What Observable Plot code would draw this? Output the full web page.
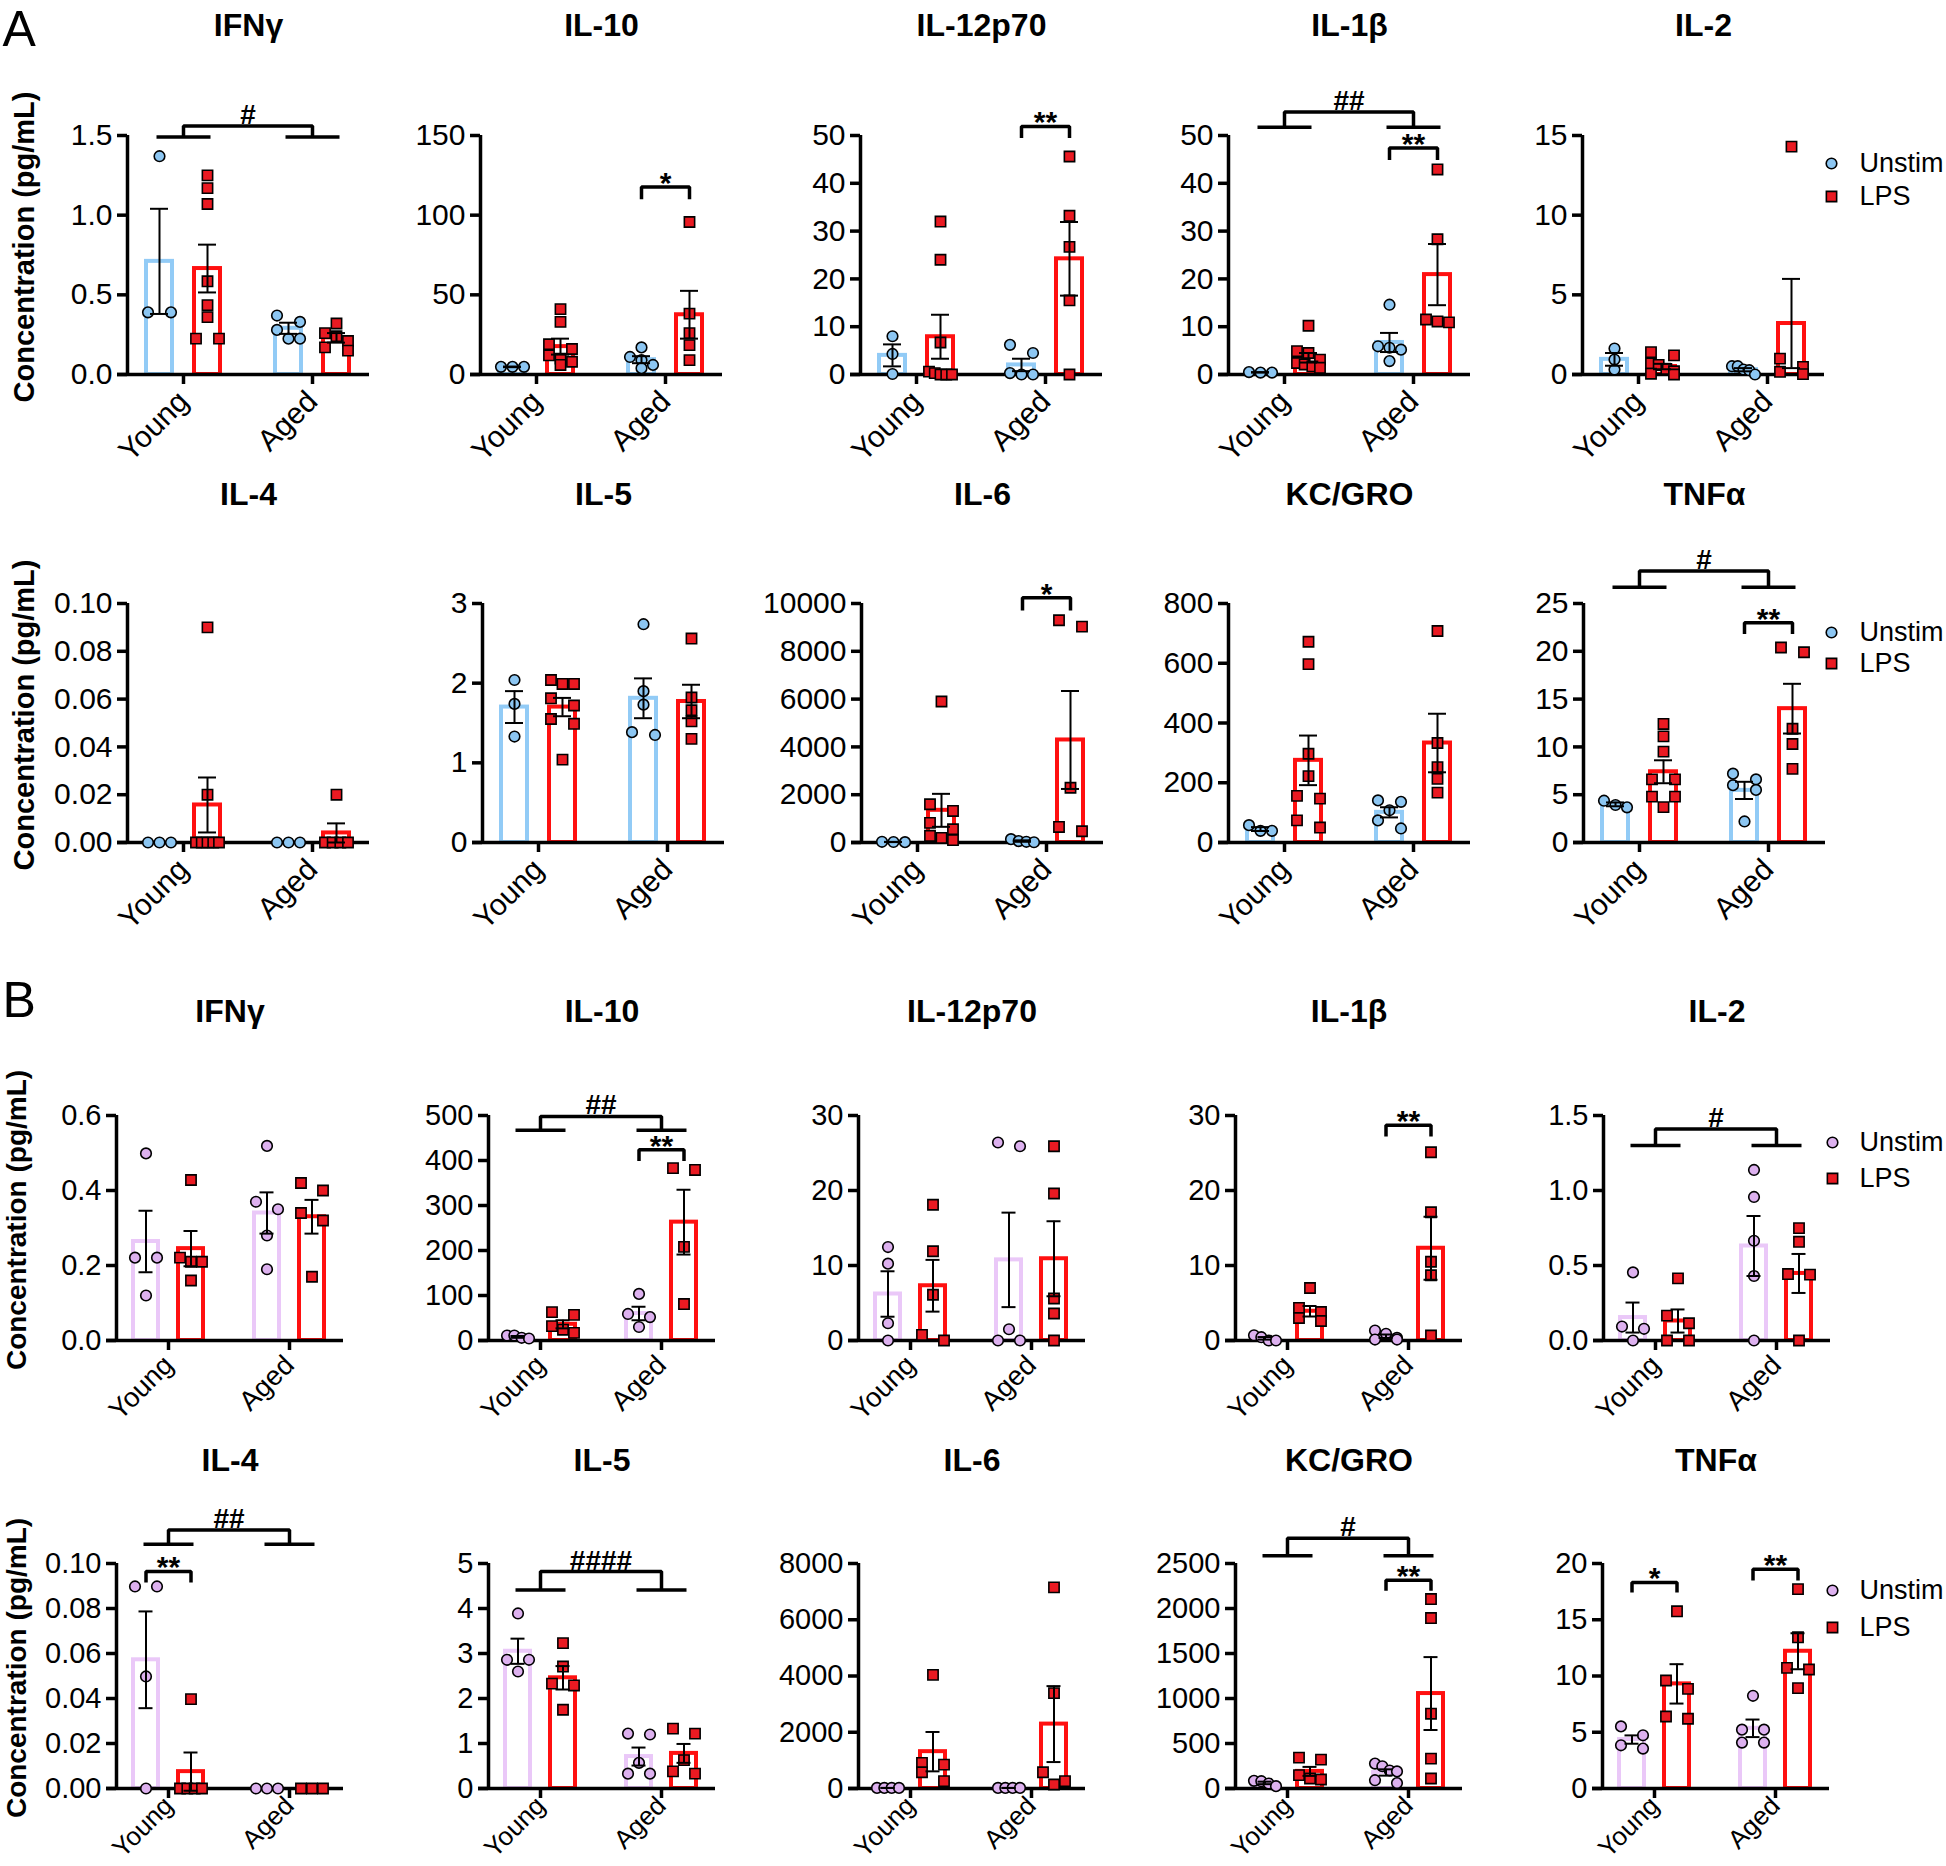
<!DOCTYPE html>
<html><head><meta charset="utf-8">
<script src="https://cdn.jsdelivr.net/npm/d3@7"></script>
<script src="https://cdn.jsdelivr.net/npm/@observablehq/plot@0.6"></script>
<style>
html,body{margin:0;padding:0;background:#fff;}
#page{position:relative;width:1946px;height:1866px;overflow:hidden;background:#fff;}
#page svg{position:absolute;}
</style></head><body><div id="page"></div>
<script>
// ---------------- DATA ----------------
const ages = ["Young", "Aged"];
const stims = ["Unstim", "LPS"];
const yTitle = "Concentration (pg/mL)";
// group order in every array: [Young Unstim, Young LPS, Aged Unstim, Aged LPS]

// ---- Panel A ----
const A_IFNg_ticks = ["0.0","0.5","1.0","1.5"];
const A_IFNg_pts = [[1.37,0.39,0.39],[1.25,1.17,1.07,0.585,0.435,0.36,0.225,0.225],[0.37,0.33,0.28,0.225,0.225],[0.32,0.26,0.24,0.21,0.17,0.15]];
const A_IFNg_mean = [0.71,0.665,0.29,0.23];
const A_IFNg_sem = [0.33,0.15,0.035,0.03];
const A_IFNg_sig = [{kind:"age", lo:1.49, hi:1.56, label:"#"}];

const A_IL10_ticks = ["0","50","100","150"];
const A_IL10_pts = [[4.8,4.8,4.8],[41,33,19,16,12,10,8,6],[17,11,9,6,4],[95.7,38.2,26,18.4,9]];
const A_IL10_mean = [4.8,17.5,9.3,37.5];
const A_IL10_sem = [0.2,5,2.2,15];
const A_IL10_sig = [{kind:"pair", age:1, y:117.6, leg:110, label:"*"}];

const A_IL12_ticks = ["0","10","20","30","40","50"];
const A_IL12_pts = [[8.0,4.3,0.1],[32,24,6.7,0.6,0.3,0,0,0],[6.2,4.5,0.3,0,0],[45.6,33.2,26.7,15.5,0]];
const A_IL12_mean = [4.0,7.9,2.0,24.2];
const A_IL12_sem = [2.3,4.6,1.3,7.7];
const A_IL12_sig = [{kind:"pair", age:1, y:51.9, leg:49.5, label:"**"}];

const A_IL1b_ticks = ["0","10","20","30","40","50"];
const A_IL1b_pts = [[0.5,0.4,0.4],[10.2,4.9,4.5,3.1,2.4,2.1,1.7,1.4],[14.6,5.9,5.6,5.2,2.8],[42.9,28.3,11.5,11.1,10.9]];
const A_IL1b_mean = [0.45,3.5,6.7,20.9];
const A_IL1b_sem = [0.05,1.0,2.0,6.4];
const A_IL1b_sig = [{kind:"pair", age:1, y:47.4, leg:44.9, label:"**"},{kind:"age", lo:51.7, hi:54.9, label:"##"}];

const A_IL2_ticks = ["0","5","10","15"];
const A_IL2_pts = [[1.63,0.94,0.31],[1.4,1.2,0.7,0.6,0.35,0.2,0.05,0.0],[0.52,0.52,0.31,0.27,0.0],[14.3,1.0,0.48,0.17,0.02]];
const A_IL2_mean = [0.95,0.5,0.3,3.2];
const A_IL2_sem = [0.4,0.17,0.1,2.8];
const A_IL2_sig = [];

const A_IL4_ticks = ["0.00","0.02","0.04","0.06","0.08","0.10"];
const A_IL4_pts = [[0,0,0],[0.09,0.02,0,0,0,0,0],[0,0,0],[0.02,0,0,0,0]];
const A_IL4_mean = [0,0.0157,0,0.004];
const A_IL4_sem = [0,0.0115,0,0.004];
const A_IL4_sig = [];

const A_IL5_ticks = ["0","1","2","3"];
const A_IL5_pts = [[2.04,1.74,1.33],[2.04,1.99,1.99,1.81,1.72,1.55,1.49,1.04],[2.74,1.9,1.73,1.385,1.35],[2.56,1.82,1.66,1.52,1.30]];
const A_IL5_mean = [1.70,1.70,1.81,1.77];
const A_IL5_sem = [0.2,0.115,0.25,0.21];
const A_IL5_sig = [];

const A_IL6_ticks = ["0","2000","4000","6000","8000","10000"];
const A_IL6_pts = [[30,20,15],[5900,1600,1320,820,555,280,195,100],[140,60,30,10],[9300,9030,2290,650,470]];
const A_IL6_mean = [22,1346,60,4290];
const A_IL6_sem = [5,690,30,2050];
const A_IL6_sig = [{kind:"pair", age:1, y:10240, leg:9710, label:"*"}];

const A_KC_ticks = ["0","200","400","600","800"];
const A_KC_pts = [[58,39,39],[672,597,297,222,156,147,74,50],[141,136,108,74,47],[708,333,252,213,167]];
const A_KC_mean = [45,275,101,333];
const A_KC_sem = [6.5,83,17,98];
const A_KC_sig = [];

const A_TNF_ticks = ["0","5","10","15","20","25"];
const A_TNF_pts = [[4.37,3.92,3.68],[12.4,11.1,9.5,6.6,6.6,4.8,4.8,3.7],[7.2,6.6,6.0,5.5,2.2],[20.4,19.9,11.9,10.3,7.7]];
const A_TNF_mean = [3.99,7.4,5.45,14.0];
const A_TNF_sem = [0.2,1.2,0.9,2.6];
const A_TNF_sig = [{kind:"pair", age:1, y:22.99, leg:21.8, label:"**"},{kind:"age", lo:26.7, hi:28.4, label:"#"}];

// ---- Panel B ----
const B_IFNg_ticks = ["0.0","0.2","0.4","0.6"];
const B_IFNg_pts = [[0.499,0.221,0.221,0.12],[0.428,0.221,0.21,0.21,0.16],[0.519,0.37,0.35,0.28,0.19],[0.42,0.40,0.34,0.32,0.17]];
const B_IFNg_mean = [0.264,0.245,0.34,0.33];
const B_IFNg_sem = [0.082,0.047,0.055,0.045];
const B_IFNg_sig = [];

const B_IL10_ticks = ["0","100","200","300","400","500"];
const B_IL10_pts = [[11,11,6,4.4],[63,57,32,24,17],[103.5,59,52,30],[383,379,208,81]];
const B_IL10_mean = [8,36,60,263];
const B_IL10_sem = [2,9,15,72];
const B_IL10_sig = [{kind:"pair", age:1, y:424, leg:399, label:"**"},{kind:"age", lo:467, hi:498, label:"##"}];

const B_IL12_ticks = ["0","10","20","30"];
const B_IL12_pts = [[12.46,10.25,2.3,0],[18.1,11.9,6.1,0.75,0],[26.4,25.9,1.5,0,0],[25.9,19.6,5.6,3.6,0]];
const B_IL12_mean = [6.2,7.3,10.75,10.9];
const B_IL12_sem = [3.03,3.45,6.3,5.0];
const B_IL12_sig = [];

const B_IL1b_ticks = ["0","10","20","30"];
const B_IL1b_pts = [[0.7,0.44,0,0],[7.0,4.35,3.8,3.0,2.6],[1.33,0.9,0.35,0.13,0.13],[25.1,17.1,10.5,8.7,0.67]];
const B_IL1b_mean = [0.29,3.9,0.57,12.3];
const B_IL1b_sem = [0.17,0.7,0.23,4.2];
const B_IL1b_sig = [{kind:"pair", age:1, y:28.7, leg:27.2, label:"**"}];

const B_IL2_ticks = ["0.0","0.5","1.0","1.5"];
const B_IL2_pts = [[0.454,0.093,0.078,0],[0.414,0.166,0.115,0,0],[1.137,0.957,0.665,0.43,0],[0.749,0.658,0.443,0.439,0]];
const B_IL2_mean = [0.153,0.13,0.63,0.447];
const B_IL2_sem = [0.1,0.077,0.2,0.13];
const B_IL2_sig = [{kind:"age", lo:1.30, hi:1.41, label:"#"}];

const B_IL4_ticks = ["0.00","0.02","0.04","0.06","0.08","0.10"];
const B_IL4_pts = [[0.0898,0.0898,0.0498,0],[0.0397,0,0,0,0],[0,0,0],[0,0,0]];
const B_IL4_mean = [0.0572,0.0075,0,0];
const B_IL4_sem = [0.0215,0.0085,0,0];
const B_IL4_sig = [{kind:"pair", age:0, y:0.0965, leg:0.0916, label:"**"},{kind:"age", lo:0.1086, hi:0.1149, label:"##"}];

const B_IL5_ticks = ["0","1","2","3","4","5"];
const B_IL5_pts = [[3.89,2.86,2.86,2.6],[3.23,2.71,2.33,2.29,1.75],[1.22,1.2,0.57,0.33,0.33],[1.33,1.22,0.63,0.38,0.33]];
const B_IL5_mean = [3.05,2.46,0.71,0.78];
const B_IL5_sem = [0.28,0.26,0.2,0.21];
const B_IL5_sig = [{kind:"age", lo:4.41, hi:4.82, label:"####"}];

const B_IL6_ticks = ["0","2000","4000","6000","8000"];
const B_IL6_pts = [[20,20,20,20],[4042,910,851,579,260],[20,20,20,20],[7151,3392,579,260,142]];
const B_IL6_mean = [20,1310,20,2290];
const B_IL6_sem = [2,700,2,1350];
const B_IL6_sig = [];

const B_KC_ticks = ["0","500","1000","1500","2000","2500"];
const B_KC_pts = [[85,81,55,26],[343,321,148,111,100],[277,247,200,190,92,60],[2105,1894,831,332,111]];
const B_KC_mean = [62,190,178,1055];
const B_KC_sem = [14,50,35,405];
const B_KC_sig = [{kind:"pair", age:1, y:2315, leg:2197, label:"**"},{kind:"age", lo:2585, hi:2780, label:"#"}];

const B_TNF_ticks = ["0","5","10","15","20"];
const B_TNF_pts = [[5.52,4.73,3.84,3.55],[15.75,9.6,8.86,6.4,6.2],[8.24,5.23,5.23,4.08,4.08],[17.72,13.44,10.72,10.58,8.92]];
const B_TNF_mean = [4.35,9.3,5.35,12.2];
const B_TNF_sem = [0.37,1.75,0.78,1.6];
const B_TNF_sig = [{kind:"pair", age:0, y:18.32, leg:17.43, label:"*"},{kind:"pair", age:1, y:19.5, leg:18.5, label:"**"}];

const panelsA = [
  ["IFNγ", A_IFNg_ticks, A_IFNg_pts, A_IFNg_mean, A_IFNg_sem, A_IFNg_sig],
  ["IL-10", A_IL10_ticks, A_IL10_pts, A_IL10_mean, A_IL10_sem, A_IL10_sig],
  ["IL-12p70", A_IL12_ticks, A_IL12_pts, A_IL12_mean, A_IL12_sem, A_IL12_sig],
  ["IL-1β", A_IL1b_ticks, A_IL1b_pts, A_IL1b_mean, A_IL1b_sem, A_IL1b_sig],
  ["IL-2", A_IL2_ticks, A_IL2_pts, A_IL2_mean, A_IL2_sem, A_IL2_sig],
  ["IL-4", A_IL4_ticks, A_IL4_pts, A_IL4_mean, A_IL4_sem, A_IL4_sig],
  ["IL-5", A_IL5_ticks, A_IL5_pts, A_IL5_mean, A_IL5_sem, A_IL5_sig],
  ["IL-6", A_IL6_ticks, A_IL6_pts, A_IL6_mean, A_IL6_sem, A_IL6_sig],
  ["KC/GRO", A_KC_ticks, A_KC_pts, A_KC_mean, A_KC_sem, A_KC_sig],
  ["TNFα", A_TNF_ticks, A_TNF_pts, A_TNF_mean, A_TNF_sem, A_TNF_sig]
];
const panelsB = [
  ["IFNγ", B_IFNg_ticks, B_IFNg_pts, B_IFNg_mean, B_IFNg_sem, B_IFNg_sig],
  ["IL-10", B_IL10_ticks, B_IL10_pts, B_IL10_mean, B_IL10_sem, B_IL10_sig],
  ["IL-12p70", B_IL12_ticks, B_IL12_pts, B_IL12_mean, B_IL12_sem, B_IL12_sig],
  ["IL-1β", B_IL1b_ticks, B_IL1b_pts, B_IL1b_mean, B_IL1b_sem, B_IL1b_sig],
  ["IL-2", B_IL2_ticks, B_IL2_pts, B_IL2_mean, B_IL2_sem, B_IL2_sig],
  ["IL-4", B_IL4_ticks, B_IL4_pts, B_IL4_mean, B_IL4_sem, B_IL4_sig],
  ["IL-5", B_IL5_ticks, B_IL5_pts, B_IL5_mean, B_IL5_sem, B_IL5_sig],
  ["IL-6", B_IL6_ticks, B_IL6_pts, B_IL6_mean, B_IL6_sem, B_IL6_sig],
  ["KC/GRO", B_KC_ticks, B_KC_pts, B_KC_mean, B_KC_sem, B_KC_sig],
  ["TNFα", B_TNF_ticks, B_TNF_pts, B_TNF_mean, B_TNF_sem, B_TNF_sig]
];

// ---------------- LAYOUT / STYLE ----------------
const FONT = '"Liberation Sans", Arial, Helvetica, sans-serif';
const LPS_BAR = "#ff1010";
const LPS_DOT = "#ea1a22";
const DOT_R = 5.3, SQ_R = 5.8;

const sections = [
  {letter: "A", letterBase: 45, panels: panelsA, frameW: 242, youngPx: 56, step: 129,
   slot: 11.5, capPx: 18, barHalfPx: 13, barOffPx: 24, bracketHalf: 27,
   unstimFill: "#8cc6f2", unstimStroke: "#92cbf6", tickFont: 30, yTitleFont: 29, yTitleCx: 24,
   legend: [[249, 28, 61, 277], [248, 29, 60, 276]],
   rows: [
     {top: 135, bottom: 374, titleBase: 35, axisX: [127, 480, 860, 1228, 1582], xFont: 30, xPad: 12},
     {top: 603, bottom: 842, titleBase: 504, axisX: [127, 482, 861, 1228, 1583], xFont: 30, xPad: 12}
   ]},
  {letter: "B", letterBase: 1016, panels: panelsB, frameW: 227, youngPx: 52, step: 121,
   slot: 11, capPx: 14, barHalfPx: 12.5, barOffPx: 22.5, bracketHalf: 25,
   unstimFill: "#ddb1ef", unstimStroke: "#eac8f8", tickFont: 29, yTitleFont: 28, yTitleCx: 17,
   legend: [[229, 27, 63, 256], [230, 27, 64, 257]],
   rows: [
     {top: 1115, bottom: 1340, titleBase: 1021, axisX: [116, 488, 858, 1235, 1603], xFont: 27.5, xPad: 10},
     {top: 1563, bottom: 1788, titleBase: 1470, axisX: [116, 488, 858, 1235, 1602], xFont: 26, xPad: 3}
   ]}
];

const page = document.getElementById("page");

function drawPanel(sec, rowIdx, col) {
  const row = sec.rows[rowIdx];
  const [name, ticks, pts, mean, sem, sig] = sec.panels[rowIdx * 5 + col];
  const axisX = row.axisX[col];
  const W = sec.frameW, H = row.bottom - row.top;
  const ml = 130, mt = 150, mb = 130, mr = col === 4 ? 400 : 15;
  const u = px => px / sec.step;
  const xLo = -u(sec.youngPx), xHi = u(W - sec.youngPx);
  const tickVals = ticks.map(Number);
  const tickLabel = new Map(tickVals.map((v, i) => [v, ticks[i]]));
  const ymax = tickVals[tickVals.length - 1];
  const pxPerY = H / ymax;

  const bars = [], dots = [], errs = [], caps = [];
  pts.forEach((vals, g) => {
    const a = Math.floor(g / 2), s = g % 2;
    const cx = a + (s ? 1 : -1) * u(sec.barOffPx);
    const m = mean[g], e = sem[g];
    bars.push({s, x1: cx - u(sec.barHalfPx), x2: cx + u(sec.barHalfPx), y1: 0, y2: m});
    if (e > 0) {
      errs.push({x: cx, lo: m - e, hi: m + e});
      caps.push({y: m - e, x1: cx - u(sec.capPx / 2), x2: cx + u(sec.capPx / 2)});
      caps.push({y: m + e, x1: cx - u(sec.capPx / 2), x2: cx + u(sec.capPx / 2)});
    }
    // GraphPad-like scatter arrangement: points at nearly the same height share a row
    const sorted = vals.slice().sort((p, q) => q - p);
    let i = 0;
    while (i < sorted.length) {
      let j = i + 1;
      while (j < sorted.length && (sorted[i] - sorted[j]) * pxPerY < sec.slot - 2) j++;
      const n = j - i;
      let offs;
      if (n === 1) offs = [0];
      else if (n === 2) offs = [-sec.slot, sec.slot];
      else {
        const sp = Math.min(sec.slot, 2 * sec.slot / (n - 1));
        offs = d3.range(n).map(k => (k - (n - 1) / 2) * sp);
      }
      for (let k = 0; k < n; k++) dots.push({s, x: cx + u(offs[k]), y: sorted[i + k]});
      i = j;
    }
  });

  // significance brackets
  const brLines = [], starText = [], hashText = [];
  sig.forEach((sg, k) => {
    if (sg.kind === "pair") {
      const cU = sg.age - u(sec.barOffPx), cL = sg.age + u(sec.barOffPx);
      const id = "p" + k;
      brLines.push({id, x: cU, y: sg.leg}, {id, x: cU, y: sg.y}, {id, x: cL, y: sg.y}, {id, x: cL, y: sg.leg});
      starText.push({x: sg.age, y: sg.y, label: sg.label});
    } else {
      const hw = u(sec.bracketHalf);
      [0, 1].forEach(a => {
        brLines.push({id: "l" + k + a, x: a - hw, y: sg.lo}, {id: "l" + k + a, x: a + hw, y: sg.lo});
      });
      const id = "c" + k;
      brLines.push({id, x: 0, y: sg.lo}, {id, x: 0, y: sg.hi}, {id, x: 1, y: sg.hi}, {id, x: 1, y: sg.lo});
      hashText.push({x: 0.5, y: sg.hi, label: sg.label});
    }
  });

  const marks = [
    Plot.rect(bars.filter(d => d.s === 0), {x1: "x1", x2: "x2", y1: "y1", y2: "y2", fill: "white", stroke: sec.unstimStroke, strokeWidth: 4}),
    Plot.rect(bars.filter(d => d.s === 1), {x1: "x1", x2: "x2", y1: "y1", y2: "y2", fill: "white", stroke: LPS_BAR, strokeWidth: 4}),
    Plot.ruleY([{y: 0, x1: xLo - u(10), x2: xHi}], {y: "y", x1: "x1", x2: "x2", stroke: "black", strokeWidth: 3.5}),
    Plot.ruleX([{x: xLo, y1: 0, y2: ymax}], {x: "x", y1: "y1", y2: "y2", stroke: "black", strokeWidth: 3.5}),
    Plot.axisY({ticks: tickVals, tickFormat: d => tickLabel.get(d), tickSize: 10, tickPadding: 5, strokeWidth: 3.5,
      fontSize: sec.tickFont, label: null, fill: "black"}),
    Plot.axisX({ticks: [0, 1], tickFormat: d => ages[d], tickSize: 10, tickPadding: row.xPad, tickRotate: -45,
      strokeWidth: 3.5, fontSize: row.xFont, label: null, fill: "black"}),
    Plot.dot(dots.filter(d => d.s === 0), {x: "x", y: "y", r: DOT_R, symbol: "circle", fill: sec.unstimFill, stroke: "black", strokeWidth: 1.6}),
    Plot.dot(dots.filter(d => d.s === 1), {x: "x", y: "y", r: SQ_R, symbol: "square", fill: LPS_DOT, stroke: "black", strokeWidth: 1.6}),
    Plot.ruleX(errs, {x: "x", y1: "lo", y2: "hi", stroke: "black", strokeWidth: 2}),
    Plot.ruleY(caps, {y: "y", x1: "x1", x2: "x2", stroke: "black", strokeWidth: 2}),
    Plot.line(brLines, {x: "x", y: "y", z: "id", stroke: "black", strokeWidth: 3.5, strokeLinejoin: "miter", strokeLinecap: "butt"}),
    Plot.text(starText, {x: "x", y: "y", text: "label", lineAnchor: "bottom", dy: 6, fontSize: 30, fontWeight: "bold", fill: "black"}),
    Plot.text(hashText, {x: "x", y: "y", text: "label", lineAnchor: "bottom", dy: -2, fontSize: 28, fontWeight: "bold", fill: "black"}),
    Plot.text([name], {text: d => d, frameAnchor: "top", dy: row.titleBase - row.top, lineAnchor: "bottom",
      fontSize: 32, fontWeight: "bold", fill: "black"})
  ];
  if (col === 0) {
    marks.push(Plot.text([yTitle], {text: d => d, frameAnchor: "left", rotate: -90, dx: sec.yTitleCx - axisX, dy: -8,
      textAnchor: "middle", lineAnchor: "middle", fontSize: sec.yTitleFont, fontWeight: "bold", fill: "black"}));
    if (rowIdx === 0) {
      marks.push(Plot.text([sec.letter], {text: d => d, frameAnchor: "top-left", dx: 2 - axisX, dy: sec.letterBase - row.top,
        textAnchor: "start", lineAnchor: "bottom", fontSize: 50, fill: "black"}));
    }
  }
  if (col === 4) {
    const [lx, ly1, ly2, tx] = sec.legend[rowIdx];
    marks.push(
      Plot.dot([stims[0]], {frameAnchor: "top-left", dx: lx, dy: ly1, r: DOT_R, symbol: "circle", fill: sec.unstimFill, stroke: "black", strokeWidth: 1.6}),
      Plot.dot([stims[1]], {frameAnchor: "top-left", dx: lx, dy: ly2, r: SQ_R, symbol: "square", fill: LPS_DOT, stroke: "black", strokeWidth: 1.6}),
      Plot.text([stims[0]], {text: d => d, frameAnchor: "top-left", dx: tx, dy: ly1, textAnchor: "start", lineAnchor: "middle", fontSize: 27, fill: "black"}),
      Plot.text([stims[1]], {text: d => d, frameAnchor: "top-left", dx: tx, dy: ly2, textAnchor: "start", lineAnchor: "middle", fontSize: 27, fill: "black"})
    );
  }

  const svg = Plot.plot({
    width: ml + W + mr,
    height: mt + H + mb,
    marginLeft: ml, marginRight: mr, marginTop: mt, marginBottom: mb,
    x: {type: "linear", domain: [xLo, xHi]},
    y: {type: "linear", domain: [0, ymax]},
    style: {background: "transparent", overflow: "visible", fontFamily: FONT, color: "black"},
    marks
  });
  svg.style.left = (axisX - ml) + "px";
  svg.style.top = (row.top - mt) + "px";
  page.appendChild(svg);
}

sections.forEach(sec => {
  sec.rows.forEach((row, r) => {
    for (let c = 0; c < 5; c++) drawPanel(sec, r, c);
  });
});
</script>
</body></html>
